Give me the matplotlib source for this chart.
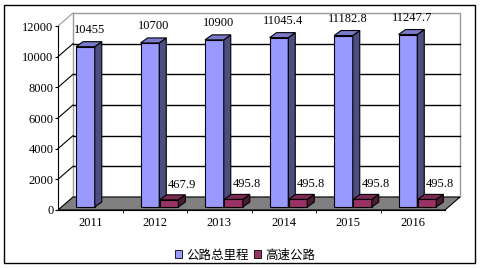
import matplotlib.pyplot as plt
from matplotlib.patches import Polygon, Rectangle, Patch
from matplotlib.lines import Line2D
import numpy as np

years = ['2011', '2012', '2013', '2014', '2015', '2016']
total_km = [10455, 10700, 10900, 11045.4, 11182.8, 11247.7]
highway_km = [0, 467.9, 495.8, 495.8, 495.8, 495.8]
total_lbl = ['10455', '10700', '10900', '11045.4', '11182.8', '11247.7']
highway_lbl = ['', '467.9', '495.8', '495.8', '495.8', '495.8']
series_names = ['公路总里程', '高速公路']

serif = 'Liberation Serif'
cjk = ['Noto Sans CJK SC', 'DejaVu Sans']

fig = plt.figure(figsize=(4.85, 2.68), dpi=100)
ax = fig.add_axes([58/485, 58/268, 387/485, 184/268])
ax.set_xlim(-0.5, 5.5)
ax.set_ylim(0, 12000)

# px -> data units
ux = 6/387.0
uy = 12000/184.0
dx, dy = 15*ux, 13*uy          # depth of the whole box
bdx, bdy = 7*ux, 5*uy          # depth of a bar
b0 = 3*uy                      # bars sit a little back on the floor
w = 0.29

# back wall
ax.add_patch(Rectangle((-0.5+dx, dy), 6, 12000, fc='white', ec='#999999', lw=1, clip_on=False, zorder=1))
for v in range(2000, 12000, 2000):
    ax.add_line(Line2D([-0.5+dx, 5.5+dx], [v+dy, v+dy], color='black', lw=1, clip_on=False, zorder=2))
    ax.add_line(Line2D([-0.5, -0.5+dx], [v, v+dy], color='black', lw=0.8, clip_on=False, zorder=2))
ax.add_line(Line2D([-0.5, -0.5+dx], [12000, 12000+dy], color='#999999', lw=0.8, clip_on=False, zorder=2))

# floor
ax.add_patch(Polygon([(-0.5, 0), (5.5, 0), (5.5+dx, dy), (-0.5+dx, dy)], closed=True,
                     fc='#808080', ec='black', lw=0.8, clip_on=False, zorder=3))


def bar3d(x, h, front, side, top):
    ax.bar(x, h, w, bottom=b0, color=front, edgecolor='black', lw=0.8, zorder=4)
    xr, xl = x + w/2, x - w/2
    ax.add_patch(Polygon([(xr, b0), (xr+bdx, b0+bdy), (xr+bdx, b0+h+bdy), (xr, b0+h)],
                         closed=True, fc=side, ec='black', lw=0.8, clip_on=False, zorder=4))
    ax.add_patch(Polygon([(xl, b0+h), (xr, b0+h), (xr+bdx, b0+h+bdy), (xl+bdx, b0+h+bdy)],
                         closed=True, fc=top, ec='black', lw=0.8, clip_on=False, zorder=4))


xs = np.arange(len(years))
for i in xs:
    bar3d(i-0.075, total_km[i], '#9999FF', '#4D4D80', '#7A7ACC')
    ax.annotate(total_lbl[i], (i-0.075, b0+total_km[i]), xytext=(4*0.72, 17*0.72),
                textcoords='offset points', ha='center', va='center',
                fontsize=9, family=serif, zorder=6, annotation_clip=False)
    if highway_km[i] > 0:
        bar3d(i+0.22, highway_km[i], '#993366', '#4D1A33', '#7A2952')
        ax.annotate(highway_lbl[i], (i+0.22, b0+highway_km[i]), xytext=(13*0.72, 15*0.72),
                    textcoords='offset points', ha='center', va='center',
                    fontsize=9, family=serif, zorder=6, annotation_clip=False)

for s in ['top', 'right']:
    ax.spines[s].set_visible(False)
ax.spines['left'].set_zorder(5)
ax.spines['bottom'].set_zorder(5)
ax.patch.set_visible(False)

ax.set_yticks(range(0, 12001, 2000))
ax.set_yticklabels([str(v) for v in range(0, 12001, 2000)], family=serif, fontsize=9)
ax.tick_params(axis='y', direction='out', length=2.2, pad=1)
ax.set_xticks(xs)
ax.set_xticklabels(years, family=serif, fontsize=9)
ax.set_xticks(np.arange(0.5, 5.5, 1), minor=True)
ax.tick_params(axis='x', which='major', length=0, pad=5)
ax.tick_params(axis='x', which='minor', direction='out', length=2.2)

handles = [Patch(fc='#9999FF', ec='black', lw=0.6), Patch(fc='#993366', ec='black', lw=0.6)]
fig.legend(handles, series_names, loc='center', bbox_to_anchor=(245/485, 13/268), ncol=2,
           frameon=False, prop={'family': cjk, 'size': 9}, handlelength=0.6, handleheight=0.6,
           handletextpad=0.3, columnspacing=0.4, borderaxespad=0)

fig.patches.append(Rectangle((4/485, 5/268), 471/485, 258/268, transform=fig.transFigure,
                             fill=False, ec='black', lw=1))

fig.savefig('out.png', dpi=100)
